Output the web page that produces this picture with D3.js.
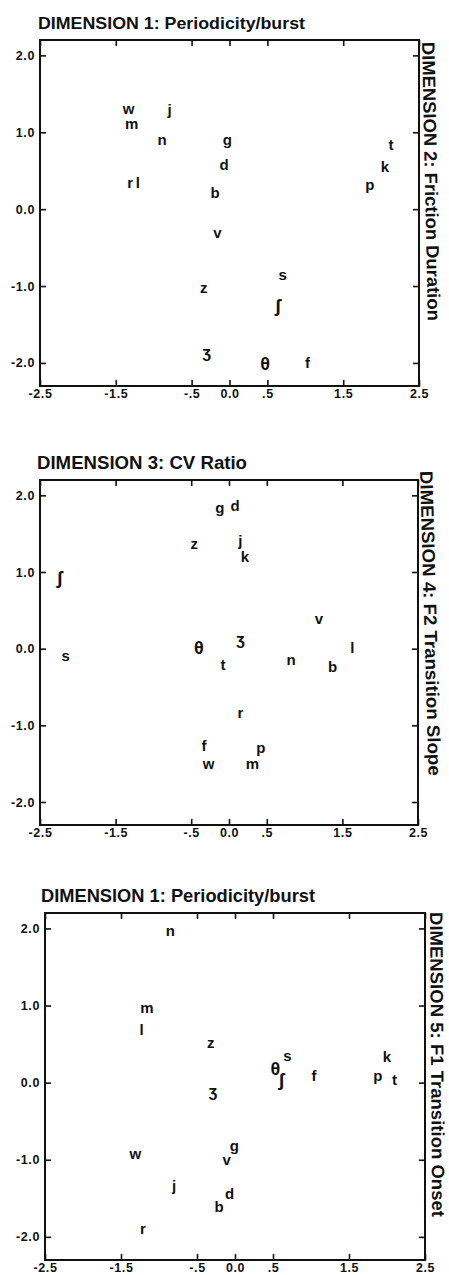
<!DOCTYPE html>
<html><head><meta charset="utf-8">
<script src="https://cdn.jsdelivr.net/npm/d3@7/dist/d3.min.js"></script>
<style>
body{margin:0;background:#fff}
svg{display:block}
</style>
</head><body>
<svg id="c" width="449" height="1275"></svg>
<script>
// ---- data ----
const xTicks = [-2.5, -1.5, -0.5, 0, 0.5, 1.5, 2.5];
const xTickLabels = ["-2.5", "-1.5", "-.5", "0.0", ".5", "1.5", "2.5"];
const yTicks = [2, 1, 0, -1, -2];
const yTickLabels = ["2.0", "1.0", "0.0", "-1.0", "-2.0"];

const panelTitles = ["DIMENSION 1: Periodicity/burst", "DIMENSION 3: CV Ratio", "DIMENSION 1: Periodicity/burst"];
const panelSideLabels = ["DIMENSION 2: Friction Duration", "DIMENSION 4: F2 Transition Slope", "DIMENSION 5: F1 Transition Onset"];

// Panel 1: Dimension 1 (x) vs Dimension 2 (y)
const phonemesA = ["w", "j", "m", "n", "g", "d", "r", "l", "b", "t", "k", "p", "v", "s", "z", "ʃ", "ʒ", "θ", "f"];
const dim1A = [-1.33, -0.79, -1.29, -0.89, -0.03, -0.07, -1.31, -1.21, -0.19, 2.13, 2.05, 1.85, -0.16, 0.70, -0.34, 0.64, -0.30, 0.47, 1.03];
const dim2A = [1.30, 1.29, 1.11, 0.90, 0.90, 0.57, 0.34, 0.34, 0.21, 0.83, 0.55, 0.31, -0.31, -0.86, -1.02, -1.25, -1.87, -2.01, -2.00];

// Panel 2: Dimension 3 (x) vs Dimension 4 (y)
const phonemesB = ["g", "d", "z", "j", "k", "ʃ", "v", "ʒ", "θ", "s", "l", "t", "n", "b", "r", "f", "p", "w", "m"];
const dim3B = [-0.12, 0.08, -0.46, 0.15, 0.21, -2.24, 1.19, 0.15, -0.40, -2.16, 1.63, -0.08, 0.82, 1.37, 0.15, -0.33, 0.42, -0.27, 0.31];
const dim4B = [1.83, 1.86, 1.37, 1.40, 1.20, 0.92, 0.38, 0.12, 0.01, -0.10, 0.01, -0.21, -0.15, -0.24, -0.84, -1.27, -1.30, -1.51, -1.51];

// Panel 3: Dimension 1 (x) vs Dimension 5 (y)
const phonemesC = ["n", "m", "l", "z", "θ", "s", "ʃ", "f", "k", "p", "t", "ʒ", "g", "v", "w", "j", "d", "b", "r"];
const dim1C = [-0.85, -1.16, -1.23, -0.32, 0.53, 0.69, 0.61, 1.04, 2.00, 1.88, 2.10, -0.29, -0.01, -0.11, -1.31, -0.80, -0.07, -0.21, -1.21];
const dim5C = [1.97, 0.97, 0.68, 0.51, 0.18, 0.35, 0.04, 0.09, 0.33, 0.09, 0.03, -0.12, -0.82, -1.01, -0.92, -1.34, -1.45, -1.61, -1.90];

// ---- layout ----
const panels = [
  {labels: phonemesA, xs: dim1A, ys: dim2A, title: panelTitles[0], side: panelSideLabels[0],
   box: {l: 40, r: 419, t: 40, b: 386}, titleX: 38, titleY: 29, titleLen: 267, titleSize: 17,
   sideX: 422, sideY: 42, sideLen: 279, sideRot: 88.8},
  {labels: phonemesB, xs: dim3B, ys: dim4B, title: panelTitles[1], side: panelSideLabels[1],
   box: {l: 40, r: 418, t: 480, b: 825}, titleX: 37, titleY: 469, titleLen: 210, titleSize: 18,
   sideX: 420, sideY: 471, sideLen: 305, sideRot: 88.4},
  {labels: phonemesC, xs: dim1C, ys: dim5C, title: panelTitles[2], side: panelSideLabels[2],
   box: {l: 45, r: 425, t: 913, b: 1260}, titleX: 41, titleY: 902, titleLen: 274, titleSize: 17.5,
   sideX: 430, sideY: 912, sideLen: 305, sideRot: 89.6}
];

const ink = "#111";
const font = "'Liberation Sans', Arial, Helvetica, sans-serif";
const bigGlyph = {"θ": 18, "ʃ": 19, "ʒ": 16};
const svg = d3.select("#c");
svg.append("rect").attr("width", 449).attr("height", 1275).attr("fill", "#fff");

panels.forEach(p => {
  const {l, r, t, b} = p.box;
  const x = d3.scaleLinear().domain([-2.5, 2.5]).range([l, r]);
  const y = d3.scaleLinear().domain([-2.3, 2.2]).range([b, t]);
  const g = svg.append("g");

  const styleAxis = sel => {
    sel.select(".domain").remove();
    sel.selectAll(".tick line").attr("stroke", ink).attr("stroke-width", 1.6);
    sel.selectAll(".tick text").attr("fill", ink)
      .style("font-family", font).style("font-size", "12.5px")
      .style("font-weight", "bold").style("letter-spacing", "0.6px");
  };

  g.append("g").attr("transform", `translate(0,${b})`)
    .call(d3.axisBottom(x).tickValues(xTicks).tickFormat((d, i) => xTickLabels[i])
      .tickSizeInner(-6).tickSizeOuter(0).tickPadding(3))
    .call(styleAxis);
  g.append("g").attr("transform", `translate(0,${t})`)
    .call(d3.axisTop(x).tickValues(xTicks).tickFormat("")
      .tickSizeInner(-6).tickSizeOuter(0))
    .call(styleAxis);
  g.append("g").attr("transform", `translate(${l},0)`)
    .call(d3.axisLeft(y).tickValues(yTicks).tickFormat((d, i) => yTickLabels[i])
      .tickSizeInner(-6).tickSizeOuter(0).tickPadding(5))
    .call(styleAxis);
  g.append("g").attr("transform", `translate(${r},0)`)
    .call(d3.axisRight(y).tickValues(yTicks).tickFormat("")
      .tickSizeInner(-6).tickSizeOuter(0))
    .call(styleAxis);

  g.append("rect").attr("x", l).attr("y", t).attr("width", r - l).attr("height", b - t)
    .attr("fill", "none").attr("stroke", ink).attr("stroke-width", 2);

  g.append("text").attr("x", p.titleX).attr("y", p.titleY)
    .attr("textLength", p.titleLen).attr("lengthAdjust", "spacingAndGlyphs")
    .attr("fill", ink).style("font-family", font).style("font-weight", "bold")
    .style("font-size", p.titleSize + "px").text(p.title);

  g.append("text")
    .attr("transform", `translate(${p.sideX},${p.sideY}) rotate(${p.sideRot})`)
    .attr("textLength", p.sideLen).attr("lengthAdjust", "spacingAndGlyphs")
    .attr("fill", ink).style("font-family", font).style("font-weight", "bold")
    .style("font-size", "18px").text(p.side);

  const idx = d3.range(p.labels.length);
  g.append("g").selectAll("text").data(idx).join("text")
    .attr("x", i => x(p.xs[i]))
    .attr("y", i => y(p.ys[i]))
    .attr("dy", "0.33em")
    .attr("text-anchor", "middle")
    .attr("fill", ink)
    .style("font-family", font).style("font-weight", "bold")
    .style("font-size", i => (bigGlyph[p.labels[i]] || 15) + "px")
    .text(i => p.labels[i]);
});
</script>
</body></html>
